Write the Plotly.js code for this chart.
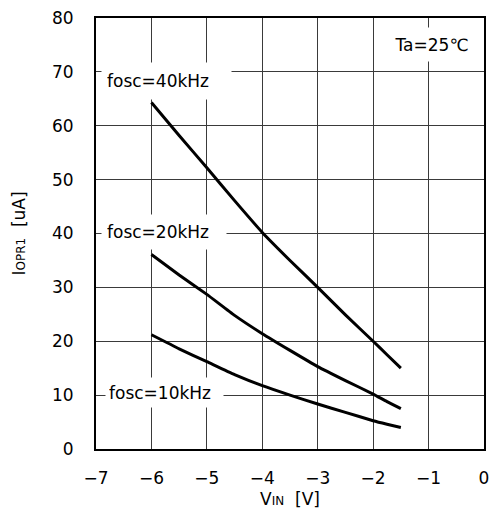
<!DOCTYPE html>
<html>
<head>
<meta charset="utf-8">
<script src="https://cdn.plot.ly/plotly-3.0.1.min.js"></script>
<style>html,body{margin:0;padding:0;background:#fff;}#chart{width:489px;height:511px;}</style>
</head>
<body>
<div id="chart"></div>
<script>
const vin = [-6, -5.5, -5, -4.5, -4, -3.5, -3, -2.5, -2, -1.75, -1.5];
const iopr40k = [64.3, 58.2, 52.2, 46.1, 40.2, 35.0, 30.0, 24.9, 20.0, 17.5, 15.0];
const iopr20k = [36.1, 32.3, 28.7, 24.8, 21.4, 18.3, 15.3, 12.7, 10.2, 8.8, 7.5];
const iopr10k = [21.2, 18.6, 16.2, 13.8, 11.75, 10.0, 8.35, 6.8, 5.25, 4.6, 4.0];
const seriesNames = ["fosc=40kHz", "fosc=20kHz", "fosc=10kHz"];
const xTicks = [-7, -6, -5, -4, -3, -2, -1, 0];
const yTicks = [0, 10, 20, 30, 40, 50, 60, 70, 80];

const FONT = "DejaVu Sans, Arial, sans-serif";
const line = {color: "#000", width: 3, shape: "spline", smoothing: 0.4};
const traces = [iopr40k, iopr20k, iopr10k].map((ys, i) => ({
  x: vin, y: ys, type: "scatter", mode: "lines", name: seriesNames[i], line: line, hoverinfo: "skip"
}));

const axisCommon = {
  showline: true, mirror: true, linecolor: "#000", linewidth: 2,
  showgrid: true, gridcolor: "#3a3a3a", gridwidth: 1,
  zeroline: false, ticks: "", fixedrange: true,
  ticklabeloverflow: "allow",
  tickfont: {family: FONT, size: 17, color: "#000"}
};

const layout = {
  width: 489, height: 511,
  margin: {l: 96, r: 5, t: 18, b: 62},
  paper_bgcolor: "#fff", plot_bgcolor: "#fff",
  showlegend: false,
  xaxis: Object.assign({}, axisCommon, {
    range: [-7, 0], tickvals: xTicks, ticktext: xTicks.map(v => v === 0 ? "0" : "\u2212" + Math.abs(v)),
    ticklabelstandoff: 13,
    title: {text: "V<span style='font-size:12px'>IN</span>  [V]", font: {family: FONT, size: 17, color: "#000"}, standoff: 6}
  }),
  yaxis: Object.assign({}, axisCommon, {
    range: [0, 80], tickvals: yTicks,
    ticklabelstandoff: 17,
    title: {text: "I<span style='font-size:12px'>OPR1</span>  [uA]", font: {family: FONT, size: 17, color: "#000"}, standoff: 22}
  }),
  annotations: [
    {x: -5.728, y: 68.3, text: seriesNames[0], width: 119, height: 26, borderpad: 5, align: "left"},
    {x: -5.773, y: 40.28, text: seriesNames[1], width: 114, height: 24, borderpad: 5, align: "left"},
    {x: -5.764, y: 10.49, text: seriesNames[2], width: 111, height: 23, borderpad: 3, align: "left"},
    {x: -0.947, y: 75.08, text: "Ta=25\u2103", width: 81, height: 27, borderpad: 3, align: "center"}
  ].map(a => Object.assign({
    xref: "x", yref: "y", showarrow: false, bgcolor: "#fff",
    xanchor: "center", yanchor: "middle", valign: "middle",
    font: {family: FONT, size: 17, color: "#000"}
  }, a))
};

Plotly.newPlot("chart", traces, layout, {staticPlot: true, displayModeBar: false});
</script>
</body>
</html>
